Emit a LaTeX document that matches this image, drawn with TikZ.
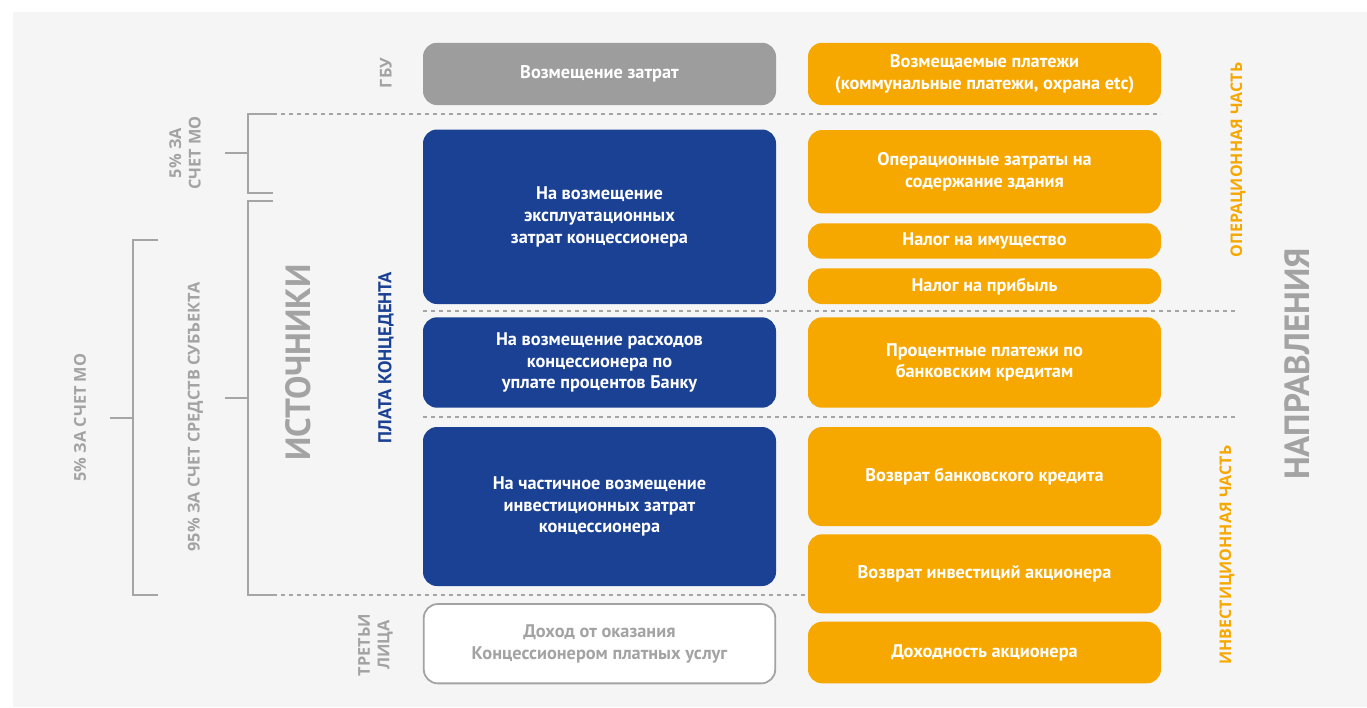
\documentclass[tikz,border=0pt]{standalone}
\usepackage{fontspec}
\setmainfont{PT Sans}
\newfontfamily\labfont{Open Sans}
\definecolor{bgC}{HTML}{F5F5F5}
\definecolor{blueC}{HTML}{1A4194}
\definecolor{orangeC}{HTML}{F7A800}
\definecolor{grayBoxC}{HTML}{9D9D9D}
\definecolor{labGrayC}{HTML}{A3A3A3}
\definecolor{lineGrayC}{HTML}{A5A5A5}
\begin{document}
\begin{tikzpicture}[x=1pt,y=-1pt,
  boxbase/.style={rounded corners=14pt, inner sep=0pt, minimum width=353pt, align=center,
    font=\fontsize{18.3}{21.8}\selectfont\bfseries, text=white},
  graybox/.style={boxbase, fill=grayBoxC},
  bluebox/.style={boxbase, fill=blueC},
  orangebox/.style={boxbase, fill=orangeC},
  whitebox/.style={boxbase, fill=white, draw=labGrayC, line width=1.8pt, text=labGrayC},
  sep/.style={draw=lineGrayC, line width=2.2pt, dash pattern=on 4pt off 4pt},
  brace/.style={draw=lineGrayC, line width=2pt},
  glabel/.style={rotate=90, text=labGrayC, align=center, inner sep=0pt,
    font=\labfont\fontsize{16.3}{19.5}\selectfont\bfseries},
  biglabel/.style={rotate=90, text=labGrayC, inner sep=0pt,
    font=\fontsize{35}{40}\selectfont\bfseries},
  olabel/.style={rotate=90, text=orangeC, inner sep=0pt,
    font=\labfont\fontsize{16}{19}\selectfont\bfseries},
  blabel/.style={rotate=90, text=blueC, inner sep=0pt,
    font=\fontsize{18.6}{21}\selectfont\bfseries}
]
\useasboundingbox (0,0) rectangle (1367,707);
\fill[white] (0,0) rectangle (1367,707);
\fill[bgC] (13,12) rectangle (1367,707);

% separators
\coordinate (d1a) at (273,114.3); \coordinate (d1b) at (1161,114.3);
\coordinate (d2a) at (423,310.7); \coordinate (d2b) at (1235,310.7);
\coordinate (d3a) at (423,417.3); \coordinate (d3b) at (1235,417.3);
\coordinate (d4a) at (273,594.7); \coordinate (d4b) at (808,594.7);
\draw[sep] (d1a) -- (d1b);
\draw[sep] (d2a) -- (d2b);
\draw[sep] (d3a) -- (d3b);
\draw[sep] (d4a) -- (d4b);

% brackets
\draw[brace] (273,114.3) -- (248,114.3) -- (248,193) -- (273,193);
\draw[brace] (225,153) -- (248,153);
\draw[brace] (273,200.7) -- (248,200.7) -- (248,594.7) -- (273,594.7);
\draw[brace] (225,397.7) -- (248,397.7);
\draw[brace] (158,240) -- (133,240) -- (133,594.7) -- (158,594.7);
\draw[brace] (110,417.7) -- (133,417.7);

% left column boxes
\node[graybox, minimum height=62.3pt] (gb) at (599.5,73.9) {Возмещение затрат};
\node[bluebox, minimum height=174.5pt] (b1) at (599.5,216.75) {На возмещение\\эксплуатационных\\затрат концессионера};
\node[bluebox, minimum height=90.4pt] (b2) at (599.5,362.5) {На возмещение расходов\\концессионера по\\уплате процентов Банку};
\node[bluebox, minimum height=159pt] (b3) at (599.5,506.5) {На частичное возмещение\\инвестиционных затрат\\концессионера};
\node[whitebox, minimum height=79.3pt, minimum width=351.5pt] (wb) at (599.5,643.7) {Доход от оказания\\Концессионером платных услуг};

% right column boxes
\node[orangebox, minimum height=62.3pt] (o1) at (984.5,73.9) {Возмещаемые платежи\\(коммунальные платежи, охрана etc)};
\node[orangebox, minimum height=83.3pt] (o2) at (984.5,171.7) {Операционные затраты на\\содержание здания};
\node[orangebox, minimum height=35.4pt] (o3) at (984.5,241) {Налог на имущество};
\node[orangebox, minimum height=35.7pt] (o4) at (984.5,286.2) {Налог на прибыль};
\node[orangebox, minimum height=90.4pt] (o5) at (984.5,362.5) {Процентные платежи по\\банковским кредитам};
\node[orangebox, minimum height=99pt] (o6) at (984.5,476.5) {Возврат банковского кредита};
\node[orangebox, minimum height=79pt] (o7) at (984.5,573.8) {Возврат инвестиций акционера};
\node[orangebox, minimum height=61.6pt] (o8) at (984.5,652.5) {Доходность акционера};

% labels
\node[glabel] (lgbu) at (386,73) {ГБУ};
\node[glabel] (l5a) at (185,153) {5\% ЗА\\СЧЕТ МО};
\node[glabel] (l3l) at (375.5,645) {ТРЕТЬИ\\ЛИЦА};
\node[glabel] (l5b) at (80,417.5) {5\% ЗА СЧЕТ МО};
\node[glabel] (l95) at (195.5,417) {95\% ЗА СЧЕТ СРЕДСТВ СУБЪЕКТА};
\node[biglabel] (lsrc) at (298.5,362.5) {ИСТОЧНИКИ};
\node[biglabel] (ldir) at (1297,364) {НАПРАВЛЕНИЯ};
\node[blabel] (lpk) at (386,357.5) {ПЛАТА КОНЦЕДЕНТА};
\node[olabel] (lop) at (1238,160) {ОПЕРАЦИОННАЯ ЧАСТЬ};
\node[olabel] (linv) at (1227,555) {ИНВЕСТИЦИОННАЯ ЧАСТЬ};
\end{tikzpicture}
\end{document}
